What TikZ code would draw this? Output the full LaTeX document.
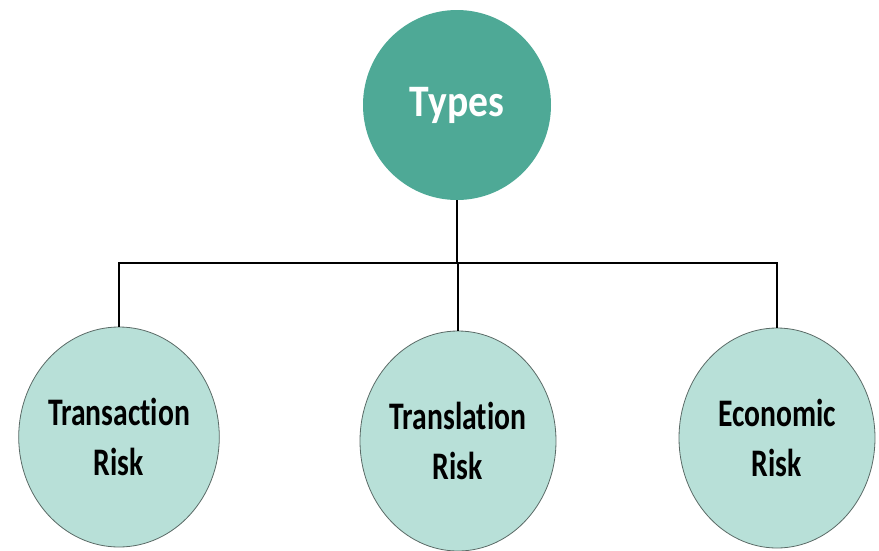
\documentclass[tikz,border=0pt]{standalone}
\usepackage{fontspec}
\setmainfont{Carlito}[Ligatures=NoCommon]
\newfontfamily\condfont[FakeStretch=0.76,Ligatures=NoCommon]{Carlito}
\newfontfamily\typesfont[FakeStretch=0.88,Ligatures=NoCommon]{Carlito}
\usetikzlibrary{shapes.geometric}
\definecolor{topteal}{HTML}{4EA996}
\definecolor{lightteal}{HTML}{B8E0D8}
\definecolor{edgegray}{HTML}{5A6A66}
\begin{document}
\begin{tikzpicture}[x=1pt,y=-1pt,
  topnode/.style={ellipse, fill=topteal, minimum width=188pt, minimum height=190pt, inner sep=0pt, text=white, font=\typesfont\fontsize{45}{52}\selectfont\bfseries},
  risknode/.style={ellipse, fill=lightteal, draw=edgegray, line width=0.8pt, minimum width=196pt, minimum height=220pt, inner sep=0pt, align=center, font=\condfont\fontsize{39}{50}\selectfont\bfseries},
  link/.style={draw=black, line width=1.3pt}]
\useasboundingbox (0,0) rectangle (879,550);
\node[topnode] (types) at (457,105) {Types};
\node[risknode] (transaction) at (119,437) {Transaction\\Risk};
\node[risknode] (translation) at (458,441) {Translation\\Risk};
\node[risknode] (economic) at (777,438) {Economic\\Risk};
\coordinate (bus) at (457,263);
\draw[link] (types.south) -- (types.south |- bus);
\draw[link] (transaction.north) -- (transaction.north |- bus) -- (economic.north |- bus) -- (economic.north);
\draw[link] (translation.north |- bus) -- (translation.north);
\end{tikzpicture}
\end{document}
